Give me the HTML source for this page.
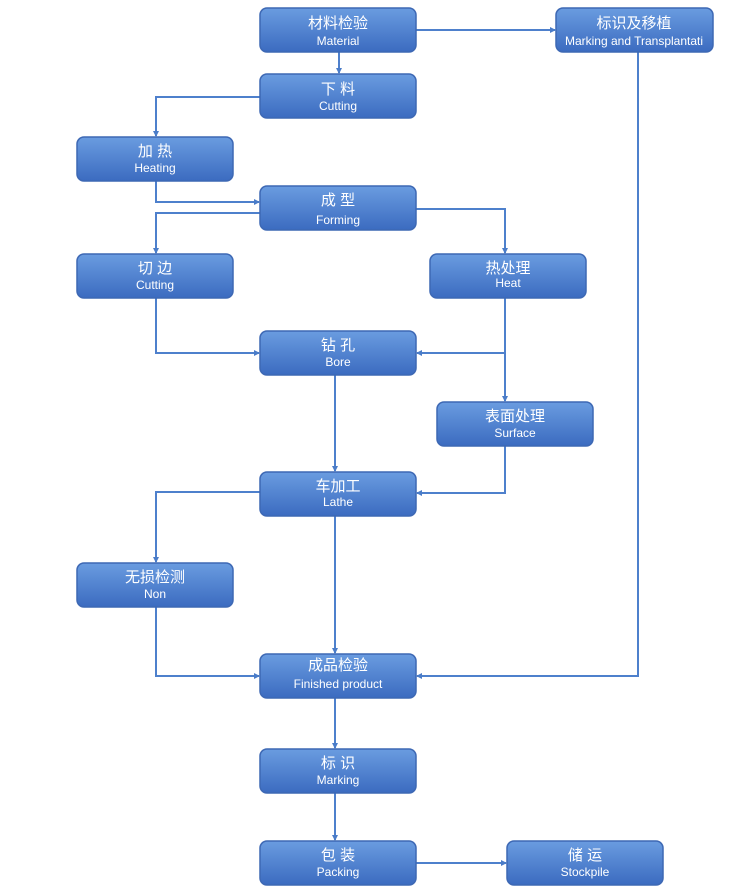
<!DOCTYPE html>
<html><head><meta charset="utf-8"><style>
html,body{margin:0;padding:0;background:#fff;width:750px;height:894px;overflow:hidden}
svg{display:block}
text{fill:#fff;text-anchor:middle;font-family:"Liberation Sans","Noto Sans CJK SC",sans-serif}
.c{font-size:15px}.e{font-size:12px}
</style></head><body>
<svg width="750" height="894" viewBox="0 0 750 894" xmlns="http://www.w3.org/2000/svg">
<defs>
<linearGradient id="g" x1="0" y1="0" x2="0" y2="1">
<stop offset="0" stop-color="#6a9ce0"/><stop offset="1" stop-color="#3b6bc0"/>
</linearGradient>
<marker id="a" markerWidth="6" markerHeight="6" refX="5" refY="3" orient="auto" markerUnits="userSpaceOnUse">
<path d="M0,0 L6,3 L0,6 z" fill="#4a7cc8"/>
</marker>
</defs>
<g fill="none" stroke="#4e80cc" stroke-width="2" marker-end="url(#a)">
<path d="M339,52 V73"/>
<path d="M416,30 H555"/>
<path d="M638,52 V676 H417"/>
<path d="M260,97 H156 V136"/>
<path d="M156,181 V202 H259"/>
<path d="M260,213 H156 V253"/>
<path d="M416,209 H505 V253"/>
<path d="M156,298 V353 H259"/>
<path d="M505,298 V353 H417"/>
<path d="M505,298 V401"/>
<path d="M505,446 V493 H417"/>
<path d="M335,375 V471"/>
<path d="M260,492 H156 V562"/>
<path d="M335,516 V653"/>
<path d="M156,607 V676 H259"/>
<path d="M335,698 V748"/>
<path d="M335,793 V840"/>
<path d="M416,863 H506"/>
</g>
<g stroke="#3d68b4" stroke-width="1.5" fill="url(#g)">
<rect x="260" y="8" width="156" height="44" rx="7"/>
<rect x="556" y="8" width="157" height="44" rx="7"/>
<rect x="260" y="74" width="156" height="44" rx="7"/>
<rect x="77" y="137" width="156" height="44" rx="7"/>
<rect x="260" y="186" width="156" height="44" rx="7"/>
<rect x="77" y="254" width="156" height="44" rx="7"/>
<rect x="430" y="254" width="156" height="44" rx="7"/>
<rect x="260" y="331" width="156" height="44" rx="7"/>
<rect x="437" y="402" width="156" height="44" rx="7"/>
<rect x="260" y="472" width="156" height="44" rx="7"/>
<rect x="77" y="563" width="156" height="44" rx="7"/>
<rect x="260" y="654" width="156" height="44" rx="7"/>
<rect x="260" y="749" width="156" height="44" rx="7"/>
<rect x="260" y="841" width="156" height="44" rx="7"/>
<rect x="507" y="841" width="156" height="44" rx="7"/>
</g>
<text class="c" x="338" y="28">材料检验</text><text class="e" x="338" y="45">Material</text>
<text class="c" x="634" y="28">标识及移植</text><text class="e" x="634" y="45">Marking and Transplantati</text>
<text class="c" x="338" y="94">下 料</text><text class="e" x="338" y="110">Cutting</text>
<text class="c" x="155" y="156">加 热</text><text class="e" x="155" y="172">Heating</text>
<text class="c" x="338" y="205">成 型</text><text class="e" x="338" y="224">Forming</text>
<text class="c" x="155" y="273">切 边</text><text class="e" x="155" y="289">Cutting</text>
<text class="c" x="508" y="273">热处理</text><text class="e" x="508" y="287">Heat</text>
<text class="c" x="338" y="350">钻 孔</text><text class="e" x="338" y="366">Bore</text>
<text class="c" x="515" y="421">表面处理</text><text class="e" x="515" y="437">Surface</text>
<text class="c" x="338" y="491">车加工</text><text class="e" x="338" y="506">Lathe</text>
<text class="c" x="155" y="582">无损检测</text><text class="e" x="155" y="598">Non</text>
<text class="c" x="338" y="670">成品检验</text><text class="e" x="338" y="688">Finished product</text>
<text class="c" x="338" y="768">标 识</text><text class="e" x="338" y="784">Marking</text>
<text class="c" x="338" y="860">包 装</text><text class="e" x="338" y="876">Packing</text>
<text class="c" x="585" y="860">储 运</text><text class="e" x="585" y="876">Stockpile</text>
</svg>
</body></html>
